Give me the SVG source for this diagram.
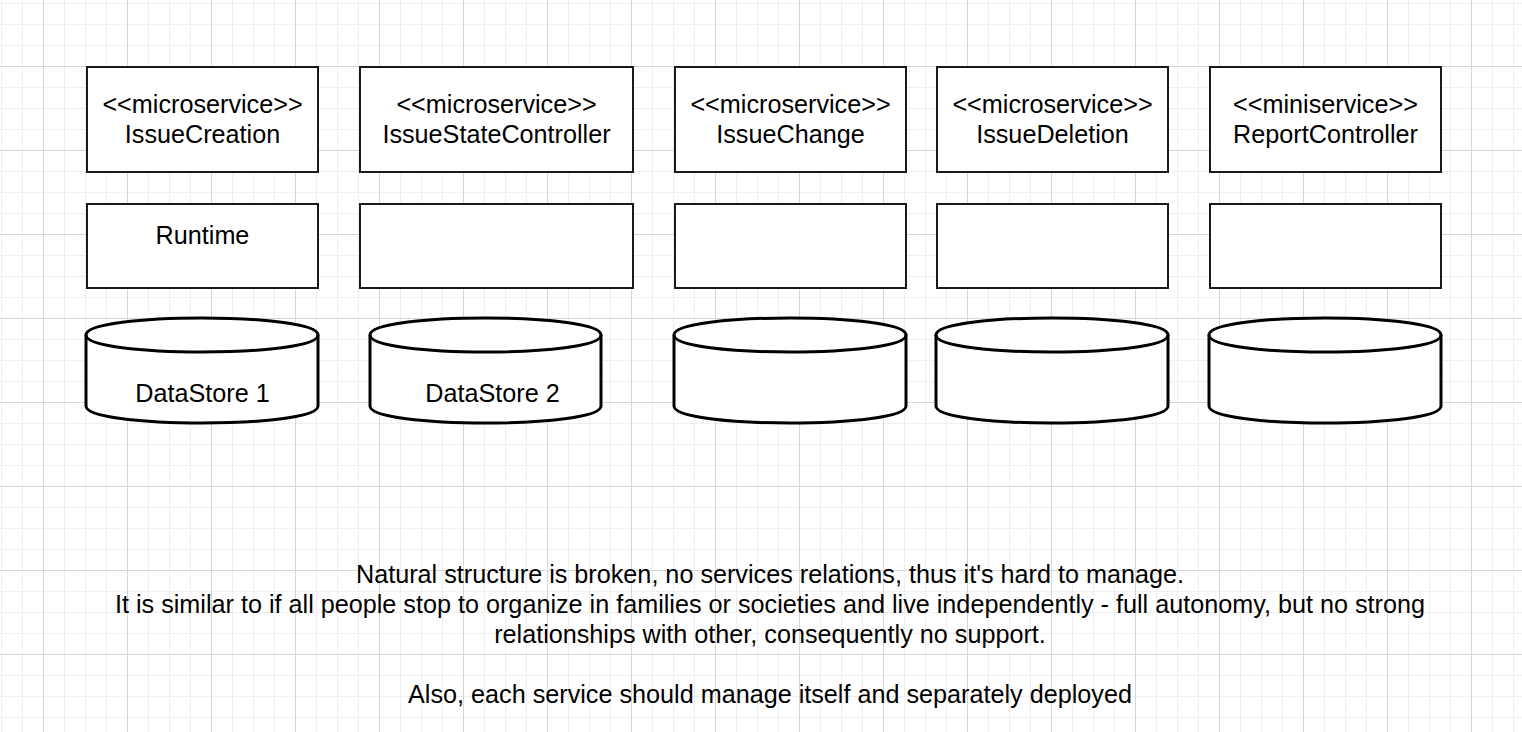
<svg xmlns="http://www.w3.org/2000/svg" width="1522" height="732" viewBox="0 0 1522 732">
  <defs>
    <pattern id="minor" patternUnits="userSpaceOnUse" x="1" y="3" width="21" height="21">
      <path d="M0.5 0 V21 M0 0.5 H21" fill="none" stroke="#efefef" stroke-width="1"/>
    </pattern>
    <pattern id="major" patternUnits="userSpaceOnUse" x="43" y="66" width="84" height="84">
      <path d="M0.5 0 V84 M0 0.5 H84" fill="none" stroke="#d6d6d6" stroke-width="1"/>
    </pattern>
    <style>
      .box { fill: #ffffff; stroke: #1a1a1a; stroke-width: 2; }
      .cyl { fill: #ffffff; stroke: #000000; stroke-width: 3; stroke-linejoin: round; }
      .cylTop { fill: none; stroke: #000000; stroke-width: 3; }
      text { font-family: "Liberation Sans", Arial, sans-serif; font-size: 25.2px; fill: #000000; text-anchor: middle; }
    </style>
  </defs>
  <rect x="0" y="0" width="1522" height="732" fill="#ffffff"/>
  <rect x="0" y="0" width="1522" height="732" fill="url(#minor)"/>
  <rect x="0" y="0" width="1522" height="732" fill="url(#major)"/>

  <g id="svc-issuecreation">
    <rect class="box" x="87" y="67" width="231" height="105"/>
    <text x="202.5" y="113">&lt;&lt;microservice&gt;&gt;</text>
    <text x="202.5" y="143">IssueCreation</text>
  </g>
  <g id="svc-issuestatecontroller">
    <rect class="box" x="360" y="67" width="273" height="105"/>
    <text x="496.5" y="113">&lt;&lt;microservice&gt;&gt;</text>
    <text x="496.5" y="143">IssueStateController</text>
  </g>
  <g id="svc-issuechange">
    <rect class="box" x="675" y="67" width="231" height="105"/>
    <text x="790.5" y="113">&lt;&lt;microservice&gt;&gt;</text>
    <text x="790.5" y="143">IssueChange</text>
  </g>
  <g id="svc-issuedeletion">
    <rect class="box" x="937" y="67" width="231" height="105"/>
    <text x="1052.5" y="113">&lt;&lt;microservice&gt;&gt;</text>
    <text x="1052.5" y="143">IssueDeletion</text>
  </g>
  <g id="svc-reportcontroller">
    <rect class="box" x="1210" y="67" width="231" height="105"/>
    <text x="1325.5" y="113">&lt;&lt;miniservice&gt;&gt;</text>
    <text x="1325.5" y="143">ReportController</text>
  </g>

  <g id="runtime-1">
    <rect class="box" x="87" y="204" width="231" height="84"/>
    <text x="202.5" y="244">Runtime</text>
  </g>
  <g id="runtime-2"><rect class="box" x="360" y="204" width="273" height="84"/></g>
  <g id="runtime-3"><rect class="box" x="675" y="204" width="231" height="84"/></g>
  <g id="runtime-4"><rect class="box" x="937" y="204" width="231" height="84"/></g>
  <g id="runtime-5"><rect class="box" x="1210" y="204" width="231" height="84"/></g>

  <g id="datastore-1">
    <path class="cyl" d="M86 335 C86 312.3 318 312.3 318 335 L318 406 C318 428.7 86 428.7 86 406 Z"/>
    <path class="cylTop" d="M86 335 C86 357.7 318 357.7 318 335"/>
    <text x="202.5" y="402">DataStore 1</text>
  </g>
  <g id="datastore-2">
    <path class="cyl" d="M370 335 C370 312.3 601 312.3 601 335 L601 406 C601 428.7 370 428.7 370 406 Z"/>
    <path class="cylTop" d="M370 335 C370 357.7 601 357.7 601 335"/>
    <text x="492.5" y="402">DataStore 2</text>
  </g>
  <g id="datastore-3">
    <path class="cyl" d="M674 335 C674 312.3 906 312.3 906 335 L906 406 C906 428.7 674 428.7 674 406 Z"/>
    <path class="cylTop" d="M674 335 C674 357.7 906 357.7 906 335"/>
  </g>
  <g id="datastore-4">
    <path class="cyl" d="M936 335 C936 312.3 1168 312.3 1168 335 L1168 406 C1168 428.7 936 428.7 936 406 Z"/>
    <path class="cylTop" d="M936 335 C936 357.7 1168 357.7 1168 335"/>
  </g>
  <g id="datastore-5">
    <path class="cyl" d="M1209 335 C1209 312.3 1441 312.3 1441 335 L1441 406 C1441 428.7 1209 428.7 1209 406 Z"/>
    <path class="cylTop" d="M1209 335 C1209 357.7 1441 357.7 1441 335"/>
  </g>

  <g id="connectors"></g>

  <g id="note">
    <text x="770" y="583">Natural structure is broken, no services relations, thus it's hard to manage.</text>
    <text x="770" y="613">It is similar to if all people stop to organize in families or societies and live independently - full autonomy, but no strong</text>
    <text x="770" y="643">relationships with other, consequently no support.</text>
    <text x="770" y="703">Also, each service should manage itself and separately deployed</text>
  </g>
</svg>
